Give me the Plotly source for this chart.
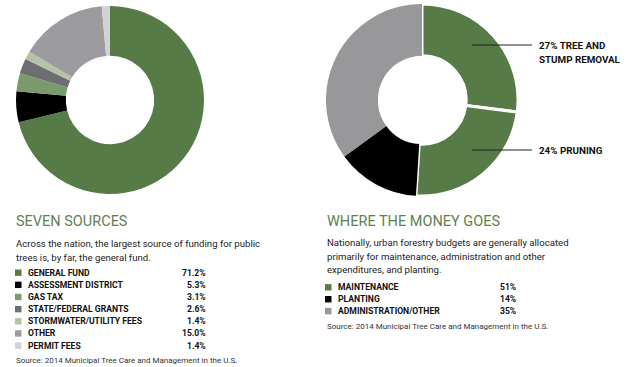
import plotly.graph_objects as go

W, H = 628, 367

# ---- data ----
src_labels = ["GENERAL FUND", "ASSESSMENT DISTRICT", "GAS TAX", "STATE/FEDERAL GRANTS",
              "STORMWATER/UTILITY FEES", "OTHER", "PERMIT FEES"]
src_values = [71.2, 5.3, 3.1, 2.6, 1.4, 15.0, 1.4]
src_colors = ["#567b46", "#000000", "#7a9a6c", "#6d6e72", "#b4c2a6", "#9b9ba0", "#d3d3d6"]

use_labels = ["MAINTENANCE", "PLANTING", "ADMINISTRATION/OTHER"]
use_values = [51, 14, 35]
use_colors = ["#567b46", "#000000", "#98989b"]

slice_labels = ["27% TREE AND|STUMP REMOVAL", "24% PRUNING", "PLANTING", "ADMINISTRATION/OTHER"]
slice_values = [27, 24, 14, 35]
slice_colors = ["#567b46", "#567b46", "#000000", "#98989b"]

FONT = "Roboto, Liberation Sans, sans-serif"
GREEN_TXT = "#5f7f52"


def px(x):
    return x / W


def py(y):
    return 1 - y / H


def domain(cx, cy, r):
    return dict(x=[px(cx - r), px(cx + r)], y=[py(cy + r), py(cy - r)])


fig = go.Figure()
fig.add_trace(go.Pie(
    labels=src_labels, values=src_values, sort=False, direction="clockwise", rotation=0,
    hole=0.47, marker=dict(colors=src_colors, line=dict(color="white", width=0)),
    textinfo="none", hoverinfo="label+value", domain=domain(110, 100, 94), showlegend=False))
fig.add_trace(go.Pie(
    labels=[s.replace("|", " ") for s in slice_labels], values=slice_values, sort=False,
    direction="clockwise", rotation=0,
    hole=0.46, marker=dict(colors=slice_colors, line=dict(color="white", width=[3, 3, 0, 0])),
    textinfo="none", hoverinfo="label+value", domain=domain(422, 100, 96), showlegend=False))

ann = []
shapes = []


def text(x, y, s, size, color="#222", bold=False, xanchor="left"):
    if bold:
        s = "<b>" + s + "</b>"
    ann.append(dict(x=px(x), y=py(y), xref="paper", yref="paper", text=s, showarrow=False,
                    xanchor=xanchor, yanchor="middle", align="left",
                    font=dict(family=FONT, size=size, color=color)))


BODY = 9.6
LEG = 8.6
CALL = 9.8
SRC = 8.0
HEAD = 14.5

# left block
text(14, 221, "SEVEN SOURCES", HEAD, GREEN_TXT)
text(14, 243, "Across the nation, the largest source of funding for public", BODY, "#222")
text(14, 257, "trees is, by far, the general fund.", BODY, "#222")
row0, dy = 272.7, 12.15
for i, (lab, val, col) in enumerate(zip(src_labels, src_values, src_colors)):
    y = row0 + i * dy
    shapes.append(dict(type="rect", xref="paper", yref="paper", x0=px(15), x1=px(21.5),
                       y0=py(y + 3.2), y1=py(y - 3.2), fillcolor=col, line=dict(width=0)))
    text(26, y, lab, LEG, "#111", bold=True)
    text(208, y, f"{val:.1f}%", LEG, "#111", bold=True, xanchor="right")
text(14, 360.5, "Source: 2014 Municipal Tree Care and Management in the U.S.", SRC, "#333")

# right block
text(325, 221.5, "WHERE THE MONEY GOES", HEAD, GREEN_TXT)
text(325, 242.7, "Nationally, urban forestry budgets are generally allocated", BODY, "#222")
text(325, 256, "primarily for maintenance, administration and other", BODY, "#222")
text(325, 269.5, "expenditures, and planting.", BODY, "#222")
row1 = 287.3
for i, (lab, val, col) in enumerate(zip(use_labels, use_values, use_colors)):
    y = row1 + i * 11.9
    shapes.append(dict(type="rect", xref="paper", yref="paper", x0=px(325), x1=px(331.5),
                       y0=py(y + 3.2), y1=py(y - 3.2), fillcolor=col, line=dict(width=0)))
    text(336, y, lab, LEG, "#111", bold=True)
    text(498, y, f"{val}%", LEG, "#111", bold=True)
text(325, 326.7, "Source: 2014 Municipal Tree Care and Management in the U.S.", SRC, "#333")

# callouts
for ly in [45, 150]:
    shapes.append(dict(type="line", xref="paper", yref="paper", x0=px(472), x1=px(532),
                       y0=py(ly), y1=py(ly), line=dict(color="#222", width=1)))
l1, l2 = slice_labels[0].split("|")
text(537, 45, l1, CALL, "#111", bold=True)
text(537, 59, l2, CALL, "#111", bold=True)
text(537, 150, slice_labels[1], CALL, "#111", bold=True)

fig.update_layout(width=W, height=H, margin=dict(l=0, r=0, t=0, b=0),
                  paper_bgcolor="white", plot_bgcolor="white",
                  annotations=ann, shapes=shapes)
fig.write_html("out.html", config={"displayModeBar": False},
               post_script="document.body.style.margin='0';")
